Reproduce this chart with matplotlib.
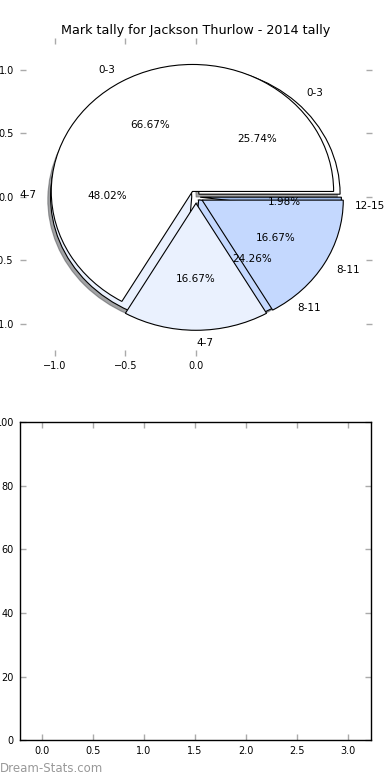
import matplotlib
matplotlib.use('Agg')
import matplotlib.pyplot as plt

# Mark tally data
title = "Mark tally for Jackson Thurlow - 2014 tally"
season_labels = ["0-3", "4-7", "8-11", "12-15"]
season_values = [25.74, 48.02, 24.26, 1.98]     # percent
player_labels = ["0-3", "4-7", "8-11"]
player_games = [4, 1, 1]                        # 66.67% / 16.67% / 16.67%
pie_colors = ["#ffffff", "#eaf1fe", "#c4d8fe", "#9db8e6"]

# empty lower chart
lower_xticks = [0.0, 0.5, 1.0, 1.5, 2.0, 2.5, 3.0]
lower_yticks = [0, 20, 40, 60, 80, 100]

tick_color = "#aaaaaa"


def style_ticks(ax):
    ax.tick_params(direction='in', color=tick_color, length=4, width=1,
                   labelsize=7, top=True, right=True, pad=4)


def main():
    fig = plt.figure(figsize=(3.9, 7.8), dpi=100)

    # top: two pies drawn on the same axes
    ax1 = fig.add_axes([0.05, 0.544, 0.905, 0.407])
    edge = {'edgecolor': 'black', 'linewidth': 0.8}
    ax1.pie(season_values, labels=season_labels, colors=pie_colors,
            autopct='%.2f%%', explode=[0.03] * len(season_values),
            shadow={'ox': -0.014, 'oy': -0.016}, wedgeprops=edge,
            textprops={'fontsize': 7.5})
    wedges, texts, autotexts = ax1.pie(
        player_games, labels=player_labels, colors=pie_colors[:3],
        autopct='%.2f%%', explode=[0.05] * len(player_games),
        wedgeprops=edge, textprops={'fontsize': 7.5})
    texts[1].set_ha('left')

    ax1.set_aspect('auto')
    ax1.set_xlim(-1.25, 1.25)
    ax1.set_ylim(-1.25, 1.25)
    ax1.set_xticks([-1.0, -0.5, 0.0])
    ax1.set_yticks([-1.0, -0.5, 0.0, 0.5, 1.0])
    ax1.set_xticklabels(["\u22121.0", "\u22120.5", "0.0"])
    ax1.set_yticklabels(["\u22121.0", "\u22120.5", "0.0", "0.5", "1.0"])
    style_ticks(ax1)
    ax1.set_title(title, fontsize=9.2, pad=3)

    # bottom: empty axes
    ax2 = fig.add_axes([0.05, 0.051, 0.9, 0.408])
    ax2.set_xlim(-0.22, 3.22)
    ax2.set_ylim(0, 100)
    ax2.set_xticks(lower_xticks)
    ax2.set_yticks(lower_yticks)
    style_ticks(ax2)
    for s in ax2.spines.values():
        s.set_linewidth(1)

    fig.text(0.0, 0.007, "Dream-Stats.com", color="#999999", fontsize=8.5,
             ha='left', va='bottom')

    plt.savefig("out.png")
    plt.close()


if __name__ == "__main__":
    main()
